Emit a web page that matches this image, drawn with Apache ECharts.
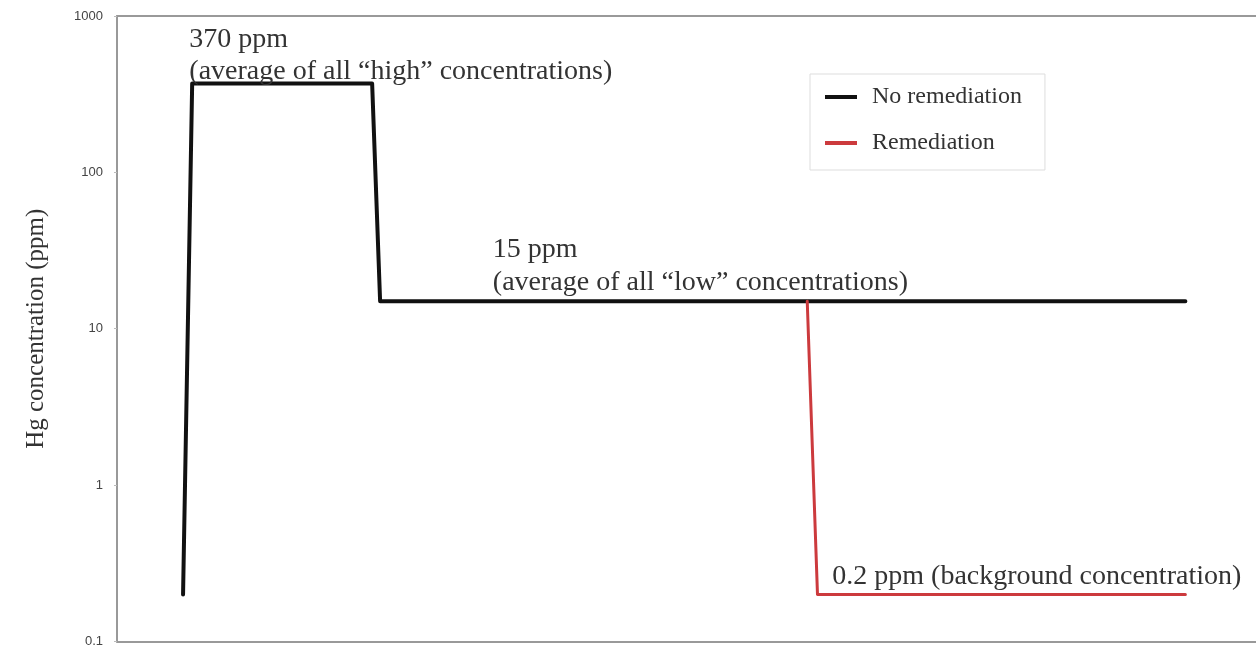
<!DOCTYPE html>
<html>
<head>
<meta charset="utf-8">
<script src="https://cdn.jsdelivr.net/npm/echarts@6/dist/echarts.min.js"></script>
<style>
  html, body { margin: 0; padding: 0; background: #fff; }
  #chart { width: 1256px; height: 648px; }
</style>
</head>
<body>
<div id="chart"></div>
<script>
// Hg concentration scenarios (ppm) along a relative position scale
const noRemediationX = [5.8, 6.6, 22.4, 23.1, 93.8];
const noRemediationY = [0.2, 370, 370, 15, 15];
const remediationX = [60.6, 61.5, 93.8];
const remediationY = [15, 0.2, 0.2];

const seriesNames = ['No remediation', 'Remediation'];
const yTicks = [0.1, 1, 10, 100, 1000];

// Annotation texts anchored at data coordinates [x, ppm]
const notes = [
  { at: [6.35, 370], lines: ['370 ppm', '(average of all \u201chigh\u201d concentrations)'] },
  { at: [33.0, 15], lines: ['15 ppm', '(average of all \u201clow\u201d concentrations)'] },
  { at: [62.8, 0.2], lines: ['0.2 ppm (background concentration)'] }
];

const serif = '"Liberation Serif", "DejaVu Serif", serif';
const pairs = (xs, ys) => xs.map((x, i) => [x, ys[i]]);

const chart = echarts.init(document.getElementById('chart'));
chart.setOption({
  animation: false,
  backgroundColor: '#fff',
  grid: { left: 117, top: 16, right: 0, bottom: 6 },
  legend: {
    data: seriesNames,
    orient: 'vertical',
    left: 810, top: 74,
    padding: [11, 23, 15, 15],
    itemGap: 22,
    itemWidth: 32, itemHeight: 4,
    icon: 'path://M0,0 L32,0 L32,4 L0,4 Z',
    borderColor: '#ddd', borderWidth: 1,
    textStyle: { fontFamily: serif, fontSize: 24, color: '#333', padding: [0, 0, 0, 10], lineHeight: 24 }
  },
  xAxis: [
    {
      type: 'value', min: 0, max: 100, position: 'bottom',
      axisLine: { show: true, lineStyle: { color: '#999', width: 2 } },
      axisTick: { show: false }, axisLabel: { show: false }, splitLine: { show: false }
    },
    {
      type: 'value', min: 0, max: 100, position: 'top',
      axisLine: { show: true, lineStyle: { color: '#999', width: 2 } },
      axisTick: { show: false }, axisLabel: { show: false }, splitLine: { show: false }
    }
  ],
  yAxis: {
    type: 'log', min: yTicks[0], max: yTicks[yTicks.length - 1], logBase: 10,
    name: 'Hg concentration (ppm)',
    nameLocation: 'middle', nameGap: 68,
    nameTextStyle: { fontFamily: serif, fontSize: 25, color: '#333' },
    axisLine: { show: true, lineStyle: { color: '#999', width: 2 } },
    axisTick: { show: true, length: 3, lineStyle: { color: '#bbb' } },
    axisLabel: {
      margin: 14, fontSize: 13, color: '#444', fontFamily: 'Arial, "Liberation Sans", sans-serif',
      formatter: v => String(v)
    },
    splitLine: { show: false }, minorTick: { show: false }
  },
  series: [
    {
      name: seriesNames[0], type: 'line', symbol: 'none',
      data: pairs(noRemediationX, noRemediationY),
      lineStyle: { color: '#111', width: 4, join: 'round', cap: 'round' },
      itemStyle: { color: '#111' }, z: 2
    },
    {
      name: seriesNames[1], type: 'line', symbol: 'none',
      data: pairs(remediationX, remediationY),
      lineStyle: { color: '#cc3a3d', width: 3, join: 'round', cap: 'round' },
      itemStyle: { color: '#cc3a3d' }, z: 3
    }
  ]
});

// Annotation layout: pixel offsets of each text line's centre above its anchor
const noteOffsets = [[-44, -12], [-52, -19], [-18]];
const graphics = [];
notes.forEach((n, k) => {
  const p = chart.convertToPixel({ gridIndex: 0 }, n.at);
  n.lines.forEach((t, i) => {
    graphics.push({
      type: 'text',
      x: p[0], y: p[1] + noteOffsets[k][i],
      style: {
        text: t, font: '28px ' + serif, fill: '#333',
        textAlign: 'left', textVerticalAlign: 'middle'
      },
      z: 10
    });
  });
});
chart.setOption({ graphic: graphics });
</script>
</body>
</html>
